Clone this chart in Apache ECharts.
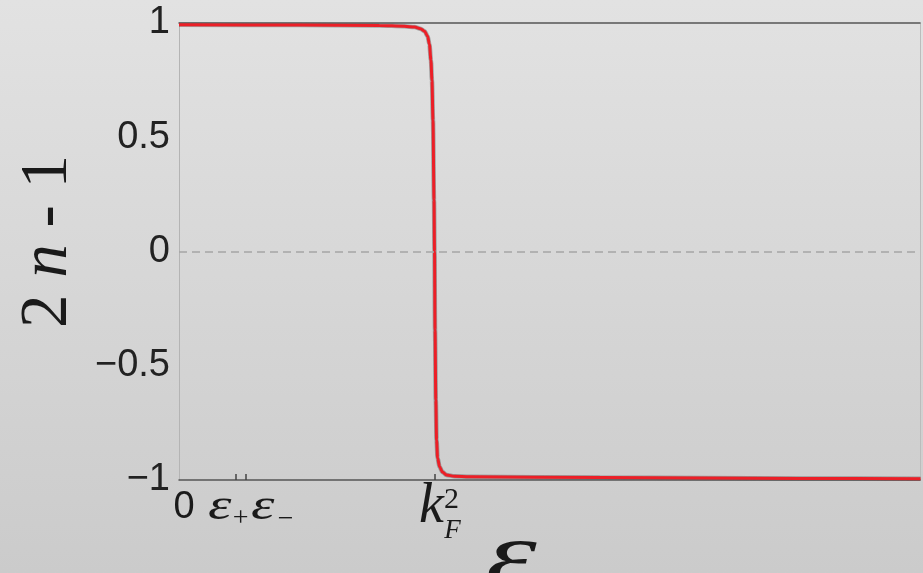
<!DOCTYPE html>
<html>
<head>
<meta charset="utf-8">
<script src="https://cdn.jsdelivr.net/npm/echarts@6/dist/echarts.min.js"></script>
<style>
  html, body { margin: 0; padding: 0; }
  #chart { width: 923px; height: 573px; background: linear-gradient(to bottom, #e2e2e2, #cbcbcb); }
</style>
</head>
<body>
<div id="chart"></div>
<script>
// energy ε (in units of k_F^2) and the occupation function 2n - 1
const energy = [0, 0.471, 0.784, 0.882, 0.922, 0.945, 0.961, 0.973, 0.980, 0.986, 0.990, 0.994, 0.998,
  1.000, 1.002, 1.005, 1.008, 1.012, 1.020, 1.031, 1.047, 1.078, 1.137, 1.647, 2.431, 2.902];
const occupation = [0.992, 0.991, 0.989, 0.986, 0.982, 0.975, 0.964, 0.942, 0.907, 0.837, 0.749, 0.574, 0.225,
  0.0, -0.344, -0.650, -0.825, -0.904, -0.943, -0.965, -0.978, -0.984, -0.986, -0.989, -0.993, -0.994];

// marked energies on the ε axis: ε+, ε−, k_F^2
const epsPlus = 0.222;
const epsMinus = 0.261;
const kF2 = 1.0;
const xTickValues = [epsPlus, epsMinus, kF2];
const yTickValues = [-1, -0.5, 0, 0.5, 1];

const points = energy.map((e, i) => [e, occupation[i]]);

const chart = echarts.init(document.getElementById('chart'), null, { renderer: 'canvas' });

const sans = "'Liberation Sans', Arial, sans-serif";
const serif = "'Liberation Serif', 'Times New Roman', serif";

chart.setOption({
  backgroundColor: 'transparent',
  animation: false,
  grid: { left: 179, top: 23, width: 741, height: 457, containLabel: false },
  xAxis: [
    {
      type: 'value', min: 0, max: 2.9, position: 'bottom',
      axisLine: { show: true, onZero: false, lineStyle: { color: '#555', width: 1.5 } },
      axisTick: { show: true, inside: true, length: 6, customValues: xTickValues, lineStyle: { color: '#444', width: 1.5 } },
      axisLabel: { show: false },
      splitLine: { show: false }
    },
    {
      type: 'value', min: 0, max: 2.9, position: 'top',
      axisLine: { show: true, onZero: false, lineStyle: { color: '#555', width: 1.5 } },
      axisTick: { show: false }, axisLabel: { show: false }, splitLine: { show: false }
    }
  ],
  yAxis: [
    {
      type: 'value', min: -1, max: 1, interval: 0.5, position: 'left',
      axisLine: { show: true, onZero: false, lineStyle: { color: '#b4b4b4', width: 1 } },
      axisTick: { show: false },
      axisLabel: {
        show: true, margin: 9, fontSize: 38, fontFamily: sans, color: '#222',
        customValues: yTickValues,
        formatter: v => (v < 0 ? '\u2212' : '') + Math.abs(v)
      },
      splitLine: { show: false }
    },
    {
      type: 'value', min: -1, max: 1, position: 'right',
      axisLine: { show: true, onZero: false, lineStyle: { color: '#bcbcbc', width: 1 } },
      axisTick: { show: false }, axisLabel: { show: false }, splitLine: { show: false }
    }
  ],
  series: [
    {
      name: 'outline', type: 'line', data: points, showSymbol: false, z: 2,
      smooth: 0.3, smoothMonotone: 'x',
      lineStyle: { color: 'rgba(70,70,70,0.4)', width: 4.5 },
      markLine: {
        silent: true, symbol: 'none', label: { show: false },
        lineStyle: { color: '#a5a5a5', width: 1.5, type: [8, 5] },
        data: [{ yAxis: 0 }]
      }
    },
    {
      name: '2n-1', type: 'line', data: points, showSymbol: false, z: 3,
      smooth: 0.3, smoothMonotone: 'x',
      lineStyle: { color: '#ec1f27', width: 3 }
    }
  ]
});

// symbolic labels under the ε axis and the axis titles
const xp = v => chart.convertToPixel({ xAxisIndex: 0 }, v);
const yBase = chart.convertToPixel({ yAxisIndex: 0 }, -1);
const yMid = chart.convertToPixel({ yAxisIndex: 0 }, 0);
const xCenter = (xp(0) + xp(2.9)) / 2;

function txt(text, x, y, font, extra) {
  return Object.assign({
    type: 'text', x: x, y: y, silent: true,
    style: { text: text, font: font, fill: '#1a1a1a', align: 'center', verticalAlign: 'middle' }
  }, extra || {});
}

chart.setOption({
  graphic: [
    txt('0', xp(0) + 5, yBase + 28, '38px ' + sans),
    txt('\u03b5', xp(epsPlus) - 16, yBase + 27, 'italic 44px ' + serif, { scaleX: 1.35 }),
    txt('+', xp(epsPlus) + 5, yBase + 39, '28px ' + serif),
    txt('\u03b5', xp(epsMinus) + 17, yBase + 27, 'italic 44px ' + serif, { scaleX: 1.35 }),
    txt('\u2212', xp(epsMinus) + 40, yBase + 40, '28px ' + serif),
    txt('k', xp(kF2) - 3, yBase + 27, 'italic 56px ' + serif),
    txt('2', xp(kF2) + 17, yBase + 20, '30px ' + serif),
    txt('F', xp(kF2) + 18, yBase + 51, 'italic 27px ' + serif),
    txt('\u03b5', xCenter - 38, yBase + 80, 'italic 92px ' + serif, { scaleX: 1.4 }),
    {
      type: 'text', x: 48, y: yMid - 10, rotation: Math.PI / 2, silent: true,
      style: {
        text: '{r|2 }{i|n}{r| - 1}',
        align: 'center', verticalAlign: 'middle', fill: '#1a1a1a',
        rich: {
          r: { font: '67px ' + serif, fill: '#1a1a1a' },
          i: { font: 'italic 67px ' + serif, fill: '#1a1a1a' }
        }
      }
    }
  ]
});
</script>
</body>
</html>
